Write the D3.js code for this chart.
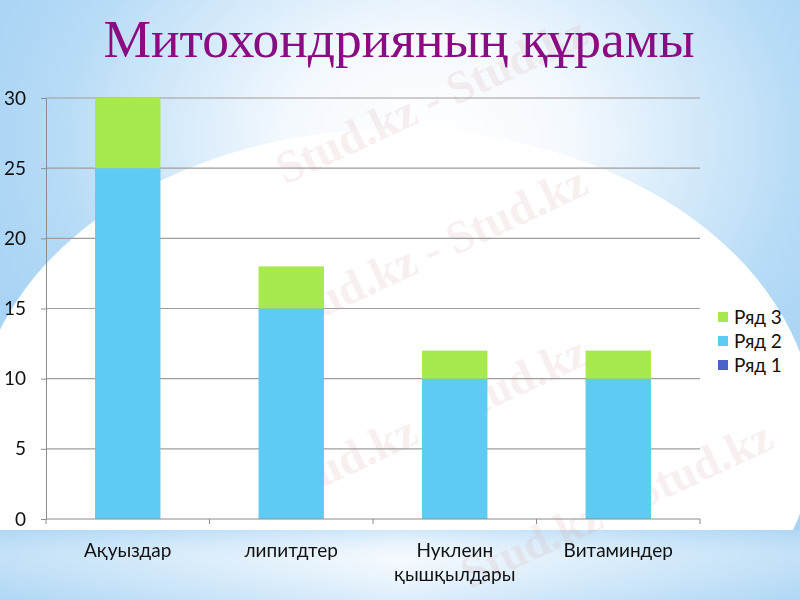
<!DOCTYPE html>
<html><head><meta charset="utf-8">
<script src="https://cdn.jsdelivr.net/npm/d3@7"></script>
<style>html,body{margin:0;padding:0;overflow:hidden;background:#fff}</style>
</head><body>
<svg id="c" width="800" height="600"></svg>
<script>
const categories = [["Ақуыздар"], ["липитдтер"], ["Нуклеин", "қышқылдары"], ["Витаминдер"]];
const seriesNames = ["Ряд 1", "Ряд 2", "Ряд 3"];
const series1 = [0, 0, 0, 0];
const series2 = [25, 15, 10, 10];
const series3 = [5, 3, 2, 2];
const yTicks = [0, 5, 10, 15, 20, 25, 30];
const colors = ["#4a63c8", "#5ecbf2", "#a8e950"];
const title = "Митохондрияның құрамы";

const svg = d3.select("#c");
const defs = svg.append("defs");
const rg = defs.append("radialGradient").attr("id","bg").attr("gradientUnits","userSpaceOnUse")
  .attr("cx",430).attr("cy",140).attr("r",470).attr("gradientTransform","translate(430,140) scale(1,0.75) translate(-430,-140)");
rg.append("stop").attr("offset","0").attr("stop-color","#ffffff");
rg.append("stop").attr("offset","0.3").attr("stop-color","#f4f9fe");
rg.append("stop").attr("offset","0.8").attr("stop-color","#b6dbf6");
rg.append("stop").attr("offset","1").attr("stop-color","#a9d4f5");
svg.append("rect").attr("width",800).attr("height",600).attr("fill","url(#bg)");
svg.append("ellipse").attr("cx",395).attr("cy",433).attr("rx",420).attr("ry",304).attr("fill","#fff");
const bb = defs.append("linearGradient").attr("id","bot").attr("x1",0).attr("y1",0).attr("x2",1).attr("y2",0);
bb.append("stop").attr("offset","0").attr("stop-color","#b3d9f5");
bb.append("stop").attr("offset","0.5").attr("stop-color","#f3f9fe");
bb.append("stop").attr("offset","1").attr("stop-color","#b3d9f5");
svg.append("rect").attr("y",530).attr("width",800).attr("height",70).attr("fill","url(#bot)");
const bv = defs.append("linearGradient").attr("id","botv").attr("x1",0).attr("y1",0).attr("x2",0).attr("y2",1);
bv.append("stop").attr("offset","0").attr("stop-color","#a9d4f5").attr("stop-opacity",0.45);
bv.append("stop").attr("offset","0.4").attr("stop-color","#ffffff").attr("stop-opacity",0.2);
bv.append("stop").attr("offset","1").attr("stop-color","#a9d4f5").attr("stop-opacity",0.3);
svg.append("rect").attr("y",530).attr("width",800).attr("height",70).attr("fill","url(#botv)");

// watermarks
const wm = svg.append("g").attr("fill","#d9a3a3").attr("opacity",0.18)
  .attr("font-family","Liberation Serif, serif").attr("font-weight","bold").attr("font-size",46);
[[285,185],[285,335],[285,505],[470,590]].forEach(p=>{
  wm.append("text").attr("transform",`translate(${p[0]},${p[1]}) rotate(-25)`).text("Stud.kz - Stud.kz");
});

const x = d3.scaleBand().domain(d3.range(categories.length)).range([46,700]).paddingInner(0.6).paddingOuter(0.3);
const y = d3.scaleLinear().domain([0,30]).range([519,98]);

// gridlines
svg.append("g").selectAll("line").data(yTicks.filter(d=>d>0)).join("line")
  .attr("x1",46).attr("x2",700).attr("y1",d=>y(d)).attr("y2",d=>y(d))
  .attr("stroke","#a09c9c").attr("stroke-width",1.2);

// stacked bars
const rows = categories.map((c,i)=>({i, s1:series1[i], s2:series2[i], s3:series3[i]}));
const stack = d3.stack().keys(["s1","s2","s3"])(rows);
svg.append("g").selectAll("g").data(stack).join("g").attr("fill",(d,i)=>colors[i])
  .selectAll("rect").data(d=>d).join("rect")
  .attr("x",d=>x(d.data.i)).attr("width",x.bandwidth())
  .attr("y",d=>y(d[1])).attr("height",d=>y(d[0])-y(d[1]));

// y axis
const ya = svg.append("g").attr("transform","translate(46,0)")
  .call(d3.axisLeft(y).tickValues(yTicks).tickSize(5).tickSizeOuter(0).tickPadding(15));
ya.select(".domain").attr("stroke","#8c8c8c");
ya.selectAll(".tick line").attr("stroke","#8c8c8c");
ya.selectAll("text").attr("font-family","Lato, sans-serif").attr("font-size",19).attr("fill","#111");

// x axis
const xb = d3.scaleLinear().domain([0,categories.length]).range([46,700]);
const xa = svg.append("g").attr("transform","translate(0,519)");
xa.append("line").attr("x1",46).attr("x2",700).attr("stroke","#8c8c8c");
xa.selectAll("line.t").data(d3.range(categories.length+1)).join("line").attr("class","t")
  .attr("x1",d=>xb(d)).attr("x2",d=>xb(d)).attr("y1",0).attr("y2",5).attr("stroke","#8c8c8c");
xa.selectAll("text").data(categories).join("text")
  .attr("text-anchor","middle").attr("font-family","Lato, sans-serif").attr("font-size",19).attr("fill","#111")
  .each(function(d,i){
    const t = d3.select(this);
    d.forEach((line,k)=>t.append("tspan").attr("x",x(i)+x.bandwidth()/2).attr("y",38+k*24).text(line));
  });

// legend
const leg = svg.append("g").attr("font-family","Lato, sans-serif").attr("font-size",19).attr("fill","#111");
const legOrder = [2,1,0];
legOrder.forEach((si,k)=>{
  const g = leg.append("g").attr("transform",`translate(718,${317+k*24})`);
  g.append("rect").attr("x",0).attr("y",-5).attr("width",10).attr("height",10).attr("fill",colors[si]);
  g.append("text").attr("x",16).attr("y",7).text(seriesNames[si]);
});

// title
svg.append("text").attr("x",399).attr("y",57).attr("text-anchor","middle")
  .attr("font-family","Liberation Serif, Times New Roman, serif").attr("font-size",53.5)
  .attr("fill","#8a0c82").text(title);
</script>
</body></html>
